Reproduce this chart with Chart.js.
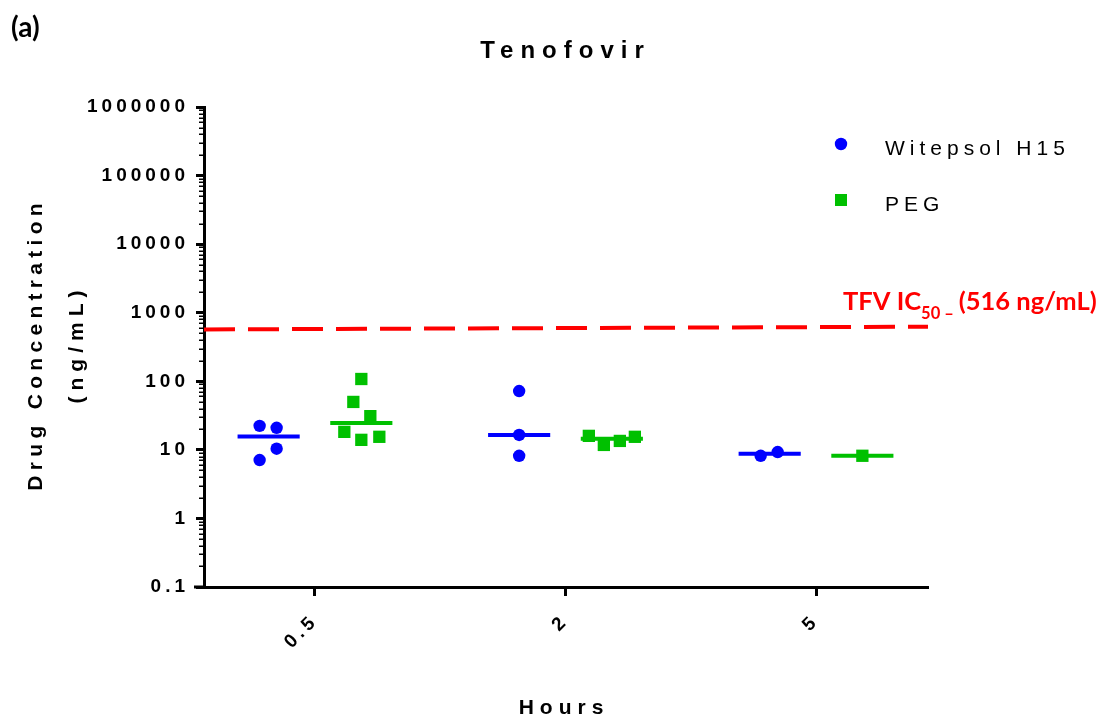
<!DOCTYPE html>
<html>
<head>
<meta charset="utf-8">
<title>Tenofovir</title>
<script src="https://cdn.jsdelivr.net/npm/chart.js@4.4.1/dist/chart.umd.min.js"></script>
<style>
  html, body { margin: 0; padding: 0; background: #fff; }
  canvas { display: block; }
</style>
</head>
<body>
<canvas id="chart" width="1105" height="719"></canvas>
<script>
// values (ng/mL)
var categories = ['0.5', '2', '5'];
var witepsol = [[22.4, 21, 10.4, 7.1], [72, 16.5, 8.2], [8.2, 9.3]];
var peg = [[108, 50, 31, 18.3, 14, 15.5], [16, 11.8, 13.5, 15.5], [8.2]];
var yTicks = [0.1, 1, 10, 100, 1000, 10000, 100000, 1000000];
var ic50Line = [570, 625];   // dashed line, left end / right end

// where the dots sit around their group centre (px)
var witepsolSpread = [[-9, 8, 8, -9], [0, 0, 0], [-9, 8]];
var pegSpread = [[0, -8, 9, -17, 0, 18], [-23, -8, 8, 23], [0]];

var xMin = -0.443, xMax = 2.447;
var pxPerUnit = 250.5;
var groupShift = 0.185;
var halfMedian = 0.124;

var BLUE = '#0000ff';
var GREEN = '#00c000';
var RED = '#ff0000';
var SANS = '"Liberation Sans", Arial, sans-serif';
var LABEL = 'Lato, "Open Sans", sans-serif';

function median(arr) {
  var s = arr.slice().sort(function(a, b) { return a - b; });
  var m = Math.floor(s.length / 2);
  return s.length % 2 ? s[m] : (s[m - 1] + s[m]) / 2;
}

function dots(series, spread, shift) {
  var out = [];
  series.forEach(function(vals, i) {
    vals.forEach(function(v, j) {
      out.push({x: i + shift + spread[i][j] / pxPerUnit, y: v});
    });
  });
  return out;
}

function medianBars(series, shift) {
  var out = [];
  series.forEach(function(vals, i) {
    var m = median(vals);
    out.push({x: i + shift - halfMedian, y: m});
    out.push({x: i + shift + halfMedian, y: m});
    out.push({x: i + shift + halfMedian + 0.01, y: null});
  });
  return out;
}

function spaced(ctx, text, x, y, font, ls, align, color) {
  ctx.save();
  ctx.font = font;
  ctx.letterSpacing = ls + 'px';
  ctx.fillStyle = color || '#000';
  ctx.textAlign = 'left';
  var w = ctx.measureText(text).width - ls;
  var sx = align === 'center' ? x - w / 2 : (align === 'right' ? x - w : x);
  ctx.fillText(text, sx, y);
  ctx.restore();
}

var decor = {
  id: 'decor',
  beforeDraw: function(chart) {
    chart.ctx.letterSpacing = '4px';
  },
  beforeDatasetsDraw: function(chart) {
    chart.ctx.letterSpacing = '0px';
  },
  afterDraw: function(chart) {
    var ctx = chart.ctx;
    var area = chart.chartArea;
    var y = chart.scales.y;

    // minor log ticks
    ctx.save();
    ctx.strokeStyle = '#000';
    ctx.lineWidth = 1.5;
    for (var d = -1; d < 6; d++) {
      for (var k = 2; k < 10; k++) {
        var py = Math.round(y.getPixelForValue(k * Math.pow(10, d))) + 0.25;
        ctx.beginPath();
        ctx.moveTo(area.left - 5, py);
        ctx.lineTo(area.left, py);
        ctx.stroke();
      }
    }
    // x axis runs a little past the y axis
    ctx.lineWidth = 3;
    ctx.beginPath();
    ctx.moveTo(area.left - 10, area.bottom);
    ctx.lineTo(area.left, area.bottom);
    ctx.stroke();
    ctx.restore();

    spaced(ctx, 'Tenofovir', 562, 58, 'bold 24px ' + SANS, 7, 'center');
    spaced(ctx, 'Hours', 561, 714, 'bold 21px ' + SANS, 6, 'center');

    ctx.save();
    ctx.translate(42, 347);
    ctx.rotate(-Math.PI / 2);
    spaced(ctx, 'Drug Concentration', 0, 0, 'bold 21px ' + SANS, 5.3, 'center');
    ctx.restore();
    ctx.save();
    ctx.translate(83, 347);
    ctx.rotate(-Math.PI / 2);
    spaced(ctx, '(ng/mL)', 0, 0, 'bold 21px ' + SANS, 6, 'center');
    ctx.restore();

    // legend
    ctx.save();
    ctx.fillStyle = BLUE;
    ctx.beginPath();
    ctx.arc(841, 144, 6.2, 0, Math.PI * 2);
    ctx.fill();
    ctx.fillStyle = GREEN;
    ctx.fillRect(835, 194, 12, 12);
    ctx.restore();
    spaced(ctx, 'Witepsol H15', 885, 155, '21px ' + SANS, 5, 'left');
    spaced(ctx, 'PEG', 885, 211, '21px ' + SANS, 5, 'left');

    // IC50 label
    ctx.save();
    ctx.fillStyle = RED;
    ctx.textAlign = 'left';
    ctx.font = 'bold 25.5px ' + LABEL;
    var x = 843;
    ctx.fillText('TFV IC', x, 310);
    x += ctx.measureText('TFV IC').width;
    ctx.font = 'bold 16.5px ' + LABEL;
    ctx.fillText('50 \u2013', x, 319);
    x += ctx.measureText('50 \u2013').width + 5;
    ctx.font = 'bold 25.5px ' + LABEL;
    ctx.fillText('(516 ng/mL)', x, 310);
    ctx.restore();

    ctx.save();
    ctx.fillStyle = '#000';
    ctx.font = 'bold 28px ' + LABEL;
    ctx.fillText('(a)', 11, 37);
    ctx.restore();
  }
};

new Chart(document.getElementById('chart'), {
  type: 'scatter',
  data: {
    datasets: [
      {
        label: 'TFV IC50',
        type: 'line',
        data: [{x: xMin, y: ic50Line[0]}, {x: xMax, y: ic50Line[1]}],
        borderColor: RED,
        borderWidth: 4,
        borderDash: [31, 13],
        pointRadius: 0,
        clip: false
      },
      {
        label: 'Witepsol median',
        type: 'line',
        data: medianBars(witepsol, -groupShift),
        borderColor: BLUE,
        borderWidth: 4,
        pointRadius: 0,
        spanGaps: false
      },
      {
        label: 'PEG median',
        type: 'line',
        data: medianBars(peg, groupShift),
        borderColor: GREEN,
        borderWidth: 4,
        pointRadius: 0,
        spanGaps: false
      },
      {
        label: 'Witepsol H15',
        data: dots(witepsol, witepsolSpread, -groupShift),
        backgroundColor: BLUE,
        borderWidth: 0,
        pointStyle: 'circle',
        pointRadius: 6.2
      },
      {
        label: 'PEG',
        data: dots(peg, pegSpread, groupShift),
        backgroundColor: GREEN,
        borderWidth: 0,
        pointStyle: 'rect',
        pointRadius: 8.7
      }
    ]
  },
  options: {
    responsive: false,
    animation: false,
    layout: { padding: { top: 107, right: 177, bottom: 0, left: 0 } },
    plugins: {
      legend: { display: false },
      title: { display: false },
      tooltip: { enabled: false }
    },
    scales: {
      x: {
        type: 'linear',
        min: xMin,
        max: xMax,
        afterBuildTicks: function(s) {
          s.ticks = categories.map(function(c, i) { return {value: i}; });
        },
        afterFit: function(s) { s.height = 132; },
        ticks: {
          autoSkip: false,
          minRotation: 45,
          maxRotation: 45,
          padding: 14,
          color: '#000',
          font: { family: SANS, size: 19, weight: 'bold' },
          callback: function(v) { return categories[v]; }
        },
        grid: { drawOnChartArea: false, tickLength: 9, tickWidth: 3, tickColor: '#000' },
        border: { width: 3, color: '#000' }
      },
      y: {
        type: 'logarithmic',
        min: 0.1,
        max: 1000000,
        afterBuildTicks: function(s) {
          s.ticks = yTicks.map(function(v) { return {value: v}; });
        },
        afterFit: function(s) { s.width = 204; },
        ticks: {
          autoSkip: false,
          padding: 7,
          color: '#000',
          font: { family: SANS, size: 19, weight: 'bold' },
          callback: function(v) { return String(v); }
        },
        grid: { drawOnChartArea: false, tickLength: 8, tickWidth: 3, tickColor: '#000' },
        border: { width: 3, color: '#000' }
      }
    }
  },
  plugins: [decor]
});
</script>
</body>
</html>
